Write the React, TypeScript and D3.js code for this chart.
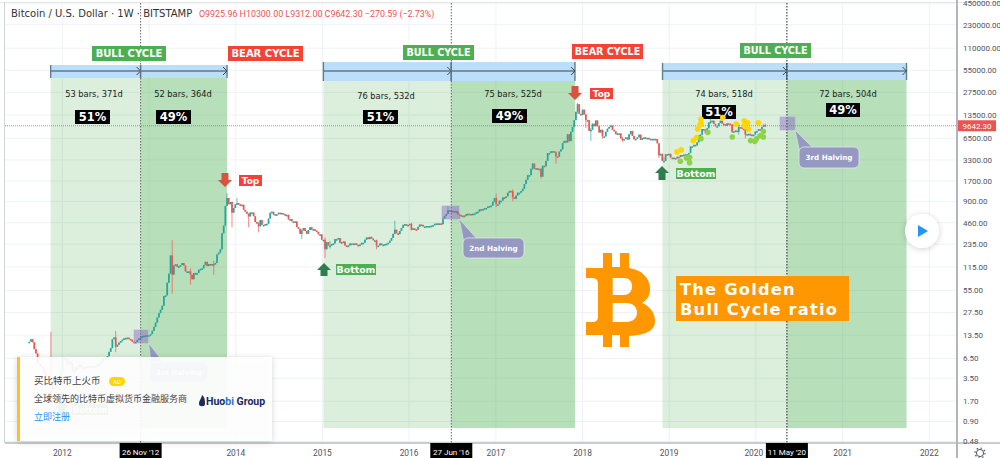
import * as d3 from "d3";

// weekly closes, one list per year, each with its own first Monday
const closes2011 = [11.0, 11.9, 10.8, 8.7, 7.6, 5.6, 5.4, 5.0, 4.8, 4.1, 3.4, 3.2, 3.1, 2.9, 2.5, 2.6, 3.0, 3.1, 3.2, 4.2];
const closes2012 = [6.8, 6.5, 6.4, 5.5, 5.9, 5.6, 4.4, 4.4, 4.9, 4.9, 5.3, 5.0, 4.9, 4.8, 5.0, 5.0, 5.1, 5.0, 5.1, 5.1, 5.2, 5.3, 5.4, 5.7, 6.3, 6.4, 6.6, 7.0, 8.0, 9.0, 11.9, 12.6, 9.4, 10.0, 10.7, 11.2, 11.7, 12.2, 12.4, 12.5, 12.0, 11.7, 11.0, 10.6, 10.9, 11.6, 12.2, 12.5, 13.1, 13.3, 13.4, 13.5];
const closes2013 = [13.5, 14.0, 15.5, 17.5, 20, 23.5, 27, 30, 34, 46, 47, 70, 93, 165, 90, 120, 125, 115, 117, 122, 130, 120, 100, 100, 100, 90, 78, 95, 90, 95, 105, 108, 110, 122, 135, 118, 126, 124, 126, 125, 130, 170, 180, 200, 330, 420, 780, 1000, 820, 880, 630, 730];
const closes2014 = [820, 850, 820, 800, 810, 690, 650, 610, 560, 635, 635, 565, 470, 450, 410, 500, 430, 430, 440, 445, 525, 630, 650, 590, 600, 600, 630, 625, 625, 600, 585, 590, 510, 515, 480, 475, 480, 400, 380, 325, 360, 390, 355, 325, 365, 400, 370, 375, 360, 345, 320, 320];
const closes2015 = [270, 270, 200, 250, 225, 225, 235, 240, 275, 275, 285, 245, 250, 255, 225, 222, 225, 240, 240, 235, 240, 230, 225, 232, 245, 245, 270, 290, 275, 295, 280, 265, 265, 225, 225, 240, 230, 232, 235, 238, 245, 262, 285, 325, 370, 330, 322, 355, 390, 430, 440, 425];
const closes2016 = [430, 445, 370, 385, 375, 370, 405, 435, 430, 410, 410, 415, 415, 415, 420, 425, 445, 450, 440, 450, 440, 525, 570, 605, 680, 655, 670, 645, 660, 655, 600, 585, 570, 575, 570, 605, 610, 605, 600, 610, 615, 640, 650, 700, 705, 700, 730, 730, 765, 775, 790, 890];
const closes2017 = [1000, 820, 820, 920, 920, 1020, 1000, 1050, 1180, 1250, 1240, 1020, 970, 1080, 1180, 1180, 1240, 1340, 1550, 1770, 2050, 2050, 2500, 2950, 2500, 2550, 2500, 2500, 1950, 2750, 2700, 3200, 4100, 4100, 4350, 4350, 4200, 3700, 3650, 4300, 4600, 5600, 6000, 5700, 7400, 5950, 8000, 9300, 11500, 15000, 19000, 14000];
const closes2018 = [13500, 16000, 13700, 11500, 11500, 8200, 8500, 10300, 9500, 11400, 9500, 7800, 8500, 6900, 6900, 8000, 8800, 9300, 9700, 8500, 8100, 7400, 7600, 7600, 6500, 6150, 6350, 6700, 6250, 7400, 8200, 7000, 6300, 6400, 6700, 7300, 6200, 6500, 6700, 6600, 6600, 6300, 6400, 6400, 6400, 6350, 5550, 3800, 4000, 3200, 3200, 3950];
const closes2019 = [3850, 4000, 3550, 3550, 3500, 3450, 3650, 3600, 3850, 3800, 3900, 3950, 3950, 4100, 5050, 5050, 5300, 5200, 5750, 7200, 7300, 8700, 8600, 7600, 8900, 10700, 11000, 11300, 10200, 9500, 9500, 10500, 11300, 10300, 10100, 9600, 10400, 10300, 10000, 8000, 8100, 8300, 7950, 9250, 9200, 8800, 8500, 7300, 7400, 7500, 7100, 7300, 7300];
const closes2020 = [8040, 8200, 8700, 8600, 9300, 9925.96, 9642.3];

const closeLists: [string, number[]][] = [
  ["2011-08-15", closes2011],
  ["2012-01-02", closes2012],
  ["2012-12-31", closes2013],
  ["2013-12-30", closes2014],
  ["2014-12-29", closes2015],
  ["2015-12-28", closes2016],
  ["2016-12-26", closes2017],
  ["2017-12-25", closes2018],
  ["2018-12-24", closes2019],
  ["2019-12-30", closes2020],
];

// the wicks that stick out of the bodies: week, high, low
const wicks: [string, number, number][] = [
  ["2011-11-14", 15, 2.3], ["2012-08-13", 15.4, 7.9], ["2013-04-08", 266, 50], ["2013-06-24", 110, 66],
  ["2013-09-30", 140, 90], ["2013-11-25", 1163, 780], ["2013-12-16", 900, 400], ["2014-01-06", 1000, 800],
  ["2014-02-24", 620, 400], ["2014-04-07", 470, 340], ["2014-10-06", 380, 275], ["2015-01-12", 290, 152],
  ["2015-02-02", 260, 205], ["2015-08-17", 270, 200], ["2015-11-02", 490, 320], ["2016-01-11", 460, 360],
  ["2016-06-13", 780, 610], ["2016-08-01", 620, 470], ["2017-01-02", 1150, 750], ["2017-03-13", 1320, 900],
  ["2017-06-05", 3000, 2400], ["2017-07-10", 2550, 1850], ["2017-09-11", 4350, 2950], ["2017-12-11", 19666, 14000],
  ["2018-01-15", 14000, 9000], ["2018-02-05", 9000, 6000], ["2018-03-26", 8500, 6500], ["2018-06-18", 6800, 5800],
  ["2018-11-19", 5600, 3500], ["2018-12-10", 3600, 3122], ["2019-06-24", 13800, 10300], ["2019-09-23", 10100, 7700],
  ["2019-10-21", 10350, 7300], ["2019-11-18", 8800, 6500], ["2020-02-10", 10300, 9312],
];

const priceTicks = [450000, 230000, 110000, 55000, 27500, 13500, 6500, 3300, 1700, 900, 460, 235, 115, 55, 27.5, 13.5, 6.5, 3.5, 1.7, 0.9, 0.48];
const yearTicks = [2012, 2013, 2014, 2015, 2016, 2017, 2018, 2019, 2020, 2021, 2022];
const yearLabels = [2012, 2014, 2015, 2016, 2017, 2018, 2019, 2020, 2021, 2022];

const lastPrice = 9642.3;
const halvings = ["2012-11-26", "2016-06-27", "2020-05-11"];
const halvingLabels = ["26 Nov '12", "27 Jun '16", "11 May '20"];
const cycleStarts = ["2011-11-13", "2015-01-05", "2018-12-04"];
const cycleEnds = ["2013-11-25", "2017-11-30", "2021-09-27"];

const yellowDots: [string, number][] = [
  ["2019-02-03", 4245], ["2019-02-21", 4520], ["2019-04-13", 6050], ["2019-04-27", 6650], ["2019-05-01", 8690],
  ["2019-05-10", 9770], ["2019-05-15", 10400], ["2019-05-15", 11790], ["2019-08-15", 12500], ["2019-10-10", 10170],
  ["2019-11-13", 11290], ["2019-11-28", 10600], ["2019-11-13", 9640], ["2019-12-01", 8690], ["2020-01-11", 10600],
];
const greenDots: [string, number][] = [
  ["2019-02-17", 3170], ["2019-03-15", 3515], ["2019-03-28", 3590], ["2019-03-28", 3030], ["2019-05-15", 6450],
  ["2019-06-13", 7840], ["2019-09-24", 6780], ["2019-12-10", 6050], ["2019-12-28", 5910], ["2020-01-04", 6400],
  ["2020-01-19", 7050], ["2020-02-02", 8030], ["2020-02-02", 6780],
];

const W = 1000;
const H = 458;
const axisX = 957;
const axisY = 443;
const sans = "'DejaVu Sans', sans-serif";
const thin = "Roboto, sans-serif";
const cjk = "'Noto Sans CJK SC', sans-serif";

const day = (s: string) => new Date(s + "T00:00:00Z");
const x = d3.scaleUtc().domain([day("2012-01-01"), day("2022-01-01")]).range([62.3, 929.3]);
const y = d3.scaleLog().domain([0.48, 450000]).range([441.5, 3.3]);

const wickByWeek = new Map(wicks.map((w) => [w[0], w]));
const fmtWeek = d3.utcFormat("%Y-%m-%d");

const flat = closeLists.flatMap(([start, list]) =>
  list.map((close, i) => ({ date: d3.utcDay.offset(day(start), i * 7), close }))
);
const candles = flat.map((d, i) => {
  const open = i === 0 ? d.close : flat[i - 1].close;
  const w = wickByWeek.get(fmtWeek(d.date));
  return {
    date: d.date,
    open,
    close: d.close,
    high: w ? w[1] : Math.max(open, d.close),
    low: w ? w[2] : Math.min(open, d.close),
  };
});

function Tag({ x0, y0, w, h, fill, text, size = 10, dy = 0 }: any) {
  return (
    <g>
      <rect x={x0} y={y0} width={w} height={h} fill={fill} />
      <text x={x0 + w / 2} y={y0 + h / 2 + size * 0.36 + dy} textAnchor="middle" fill="#fff" fontFamily={sans} fontWeight="bold" fontSize={size}>
        {text}
      </text>
    </g>
  );
}

function FatArrow({ cx, top, h, fill, up }: any) {
  const pts = up
    ? [[0, 0], [7, 7], [3.5, 7], [3.5, h], [-3.5, h], [-3.5, 7], [-7, 7]]
    : [[-3.5, 0], [3.5, 0], [3.5, h - 7], [7, h - 7], [0, h], [-7, h - 7], [-3.5, h - 7]];
  return <polygon points={pts.map((p) => `${cx + p[0]},${top + p[1]}`).join(" ")} fill={fill} />;
}

function Halving({ date, x0, y0, x1, y1, bw, bh, cx, cy, cw, ch, text }: any) {
  const hx = x(day(date));
  return (
    <g>
      <rect x={x0} y={y0} width={bw} height={bh} fill="#7e57c2" fillOpacity={0.42} stroke="#b39ddb" strokeOpacity={0.5} />
      <polygon points={`${hx + x1},${y1} ${cx + 14},${cy + 1} ${cx + 2},${cy + 10}`} fill="#9598c0" stroke="#e5e5f2" strokeWidth={0.6} />
      <rect x={cx} y={cy} width={cw} height={ch} rx={5} fill="#9598c0" stroke="#e5e5f2" strokeWidth={0.8} />
      <text x={cx + cw / 2} y={cy + ch / 2 + 2.6} textAnchor="middle" fill="#fff" fontFamily={sans} fontWeight="bold" fontSize={7.2}>
        {text}
      </text>
    </g>
  );
}

function RangeBar({ x0, x1, top, bottom }: any) {
  const mid = 71;
  return (
    <g stroke="#37474f" strokeWidth={1} fill="none">
      <rect x={x0} y={top} width={x1 - x0} height={bottom - top} fill="#bbdefb" stroke="none" />
      <line x1={x0} x2={x1} y1={mid} y2={mid} />
      <line x1={x0} x2={x0} y1={top} y2={bottom} strokeWidth={1.4} stroke="#607d8b" />
      <line x1={x1} x2={x1} y1={top} y2={bottom} strokeWidth={1.4} stroke="#607d8b" />
      <path d={`M${x1 - 4},${mid - 4}L${x1},${mid}L${x1 - 4},${mid + 4}`} />
    </g>
  );
}

export default function App() {
  const xs = halvings.map((d) => x(day(d)));
  const starts = cycleStarts.map((d) => x(day(d)));
  const ends = cycleEnds.map((d) => x(day(d)));
  const tops = [[65, 78], [62, 81], [63, 80]];
  const regionBottom = 428;
  const candleW = 1.7;

  return (
    <svg width={W} height={H} style={{ position: "fixed", left: 0, top: 0, background: "#fff" }}>
      <defs>
        <filter id="shadow" x="-20%" y="-20%" width="140%" height="140%">
          <feDropShadow dx="0" dy="1" stdDeviation="3" floodColor="#000" floodOpacity="0.18" />
        </filter>
      </defs>

      {/* grid */}
      <g stroke="#eef2f7" strokeWidth={1}>
        {priceTicks.map((t) => (
          <line key={t} x1={5} x2={axisX} y1={y(t)} y2={y(t)} />
        ))}
        {yearTicks.map((t) => {
          const px = x(day(`${t}-01-01`));
          return <line key={t} x1={px} x2={px} y1={3} y2={axisY} />;
        })}
      </g>

      {/* cycle regions */}
      {starts.map((s, i) => (
        <g key={s}>
          <rect x={s} y={tops[i][1]} width={xs[i] - s} height={regionBottom - tops[i][1]} fill="#4caf50" fillOpacity={0.2} />
          <rect x={xs[i]} y={tops[i][1]} width={ends[i] - xs[i]} height={regionBottom - tops[i][1]} fill="#4caf50" fillOpacity={0.4} />
          <RangeBar x0={s} x1={xs[i]} top={tops[i][0]} bottom={tops[i][1]} />
          <RangeBar x0={xs[i]} x1={ends[i]} top={tops[i][0]} bottom={tops[i][1]} />
        </g>
      ))}

      {/* candles */}
      {candles.map((c) => {
        const px = x(c.date);
        const col = c.close >= c.open ? "#26a69a" : "#ef5350";
        const a = y(Math.max(c.open, c.close));
        const b = y(Math.min(c.open, c.close));
        return (
          <g key={+c.date} fill={col} stroke={col}>
            <line x1={px} x2={px} y1={y(c.high)} y2={y(c.low)} strokeWidth={0.8} strokeOpacity={0.85} />
            <rect x={px - candleW / 2} y={a} width={candleW} height={Math.max(b - a, 1.6)} stroke="none" />
          </g>
        );
      })}

      {/* last price line */}
      <line x1={5} x2={axisX} y1={y(lastPrice)} y2={y(lastPrice)} stroke="#ef5350" strokeDasharray="1 1" strokeWidth={0.8} />

      {/* halving crosshairs */}
      {xs.map((px, i) => (
        <line key={px} x1={px} x2={px} y1={3} y2={axisY} stroke={i === 2 ? "#222" : "#666"} strokeWidth={1} strokeDasharray="1.5 1.5" />
      ))}

      {/* annotations */}
      <Tag x0={92} y0={46} w={74} h={15} fill="#4caf50" text="BULL CYCLE" />
      <Tag x0={228} y0={46} w={75} h={15} fill="#f44336" text="BEAR CYCLE" />
      <Tag x0={403} y0={45} w={71} h={15} fill="#4caf50" text="BULL CYCLE" size={9.6} />
      <Tag x0={572} y0={44} w={71} h={15} fill="#f44336" text="BEAR CYCLE" size={9.6} />
      <Tag x0={740} y0={43} w={71} h={15} fill="#4caf50" text="BULL CYCLE" size={9.6} />

      <g fontFamily={sans} fontSize={8.3} fill="#222" textAnchor="middle">
        <text x={94} y={97}>53 bars, 371d</text>
        <text x={183} y={97}>52 bars, 364d</text>
        <text x={386} y={99}>76 bars, 532d</text>
        <text x={513} y={97}>75 bars, 525d</text>
        <text x={724} y={97}>74 bars, 518d</text>
        <text x={848} y={97}>72 bars, 504d</text>
      </g>

      <Tag x0={75} y0={110} w={35} h={14} fill="#000" text="51%" size={11.5} />
      <Tag x0={156} y0={110} w={35} h={14} fill="#000" text="49%" size={11.5} />
      <Tag x0={363} y0={110} w={35} h={14} fill="#000" text="51%" size={11.5} />
      <Tag x0={492} y0={109} w={35} h={14} fill="#000" text="49%" size={11.5} />
      <Tag x0={702} y0={105} w={34} h={14} fill="#000" text="51%" size={11.5} />
      <Tag x0={826} y0={103} w={34} h={14} fill="#000" text="49%" size={11.5} />

      <FatArrow cx={225} top={173} h={14} fill="#d9533f" />
      <Tag x0={239} y0={175} w={23} h={11} fill="#f44336" text="Top" size={9} />
      <FatArrow cx={575} top={86} h={14} fill="#d9533f" />
      <Tag x0={590} y0={88} w={23} h={11} fill="#f44336" text="Top" size={9} />
      <FatArrow cx={324} top={263} h={13} fill="#2e7d4f" up />
      <Tag x0={336} y0={264} w={40} h={11} fill="#4caf50" text="Bottom" size={9.4} />
      <FatArrow cx={662} top={166} h={14} fill="#2e7d4f" up />
      <Tag x0={676} y0={168} w={40} h={11} fill="#4caf50" text="Bottom" size={9.4} />
      {/* the first Bottom sits behind the ad card, nudged clear of the card's link */}
      <FatArrow cx={62} top={401} h={13} fill="#2e7d4f" up />
      <Tag x0={72} y0={404} w={36} h={11} fill="#4caf50" text="Bottom" size={8.4} />

      <Halving date={halvings[0]} x0={134} y0={330} bw={14} bh={13} x1={8} y1={343} cx={150} cy={362} cw={58} ch={20} text="1st Halving" />
      <Halving date={halvings[1]} x0={442} y0={206} bw={17} bh={13} x1={8} y1={219} cx={463} cy={238} cw={61} ch={20} text="2nd Halving" />
      <Halving date={halvings[2]} x0={780} y0={117} bw={15} bh={13} x1={8} y1={130} cx={799} cy={147} cw={60} ch={21} text="3rd Halving" />

      {/* halving-to-halving dots */}
      {yellowDots.map(([d, p], i) => (
        <circle key={i} cx={x(day(d))} cy={y(p)} r={2.8} fill="#ffd600" />
      ))}
      {greenDots.map(([d, p], i) => (
        <circle key={i} cx={x(day(d))} cy={y(p)} r={2.8} fill="#8bd34a" />
      ))}

      {/* bitcoin mark */}
      <path
        fill="#ff9800"
        fillRule="evenodd"
        d="M586,268 L603,268 L603,253 L612,253 L612,267 L620,267 L620,253 L629,253 L629,268 C642,270 650,278 650,289 C650,296 647,300 642,303 C650,306 655,313 655,321 C655,331 645,335 629,336 L629,347 L620,347 L620,335 L612,335 L612,347 L603,347 L603,335 L586,335 L586,322 L592,322 C596,322 598,320 598,317 L598,284 C598,280 596,278 592,278 L586,278 Z M612.7,278 L612.7,295 L624,295 C629,295 632,291 632,286.5 C632,281 629,278 624,278 Z M612.7,303 L612.7,322 L626,322 C633,322 637,318 637,312.5 C637,307 633,303 626,303 Z"
      />
      <rect x={676} y={276} width={173} height={45} fill="#ff9800" />
      <g fill="#fff" fontFamily={sans} fontWeight="bold" fontSize={16.3} letterSpacing={1.2}>
        <text x={680} y={295}>The Golden</text>
        <text x={680} y={314.5}>Bull Cycle ratio</text>
      </g>

      {/* frame and axes */}
      <line x1={0} x2={W} y1={2.5} y2={2.5} stroke="#e4e6ea" />
      <line x1={4.5} x2={4.5} y1={2} y2={axisY} stroke="#d1d4dc" />
      <line x1={5} x2={W} y1={axisY} y2={axisY} stroke="#9598a1" />
      <line x1={axisX} x2={axisX} y1={0} y2={H} stroke="#b2b5be" strokeWidth={2} />
      <g fontFamily={thin} fontSize={8} fill="#50535e">
        {priceTicks.map((t) => (
          <text key={t} x={963} y={y(t) + 2.9}>{t.toFixed(2)}</text>
        ))}
      </g>
      <g fontFamily={thin} fontSize={8.4} fill="#50535e" textAnchor="middle">
        {yearLabels.map((t) => (
          <text key={t} x={x(day(`${t}-01-01`)) - (t === 2020 ? 2 : 0)} y={456}>{t}</text>
        ))}
      </g>
      {xs.map((px, i) => (
        <g key={px}>
          <rect x={px - 21} y={axisY} width={42} height={15} fill="#000" />
          <text x={px} y={455} textAnchor="middle" fill="#fff" fontFamily={thin} fontSize={8}>{halvingLabels[i]}</text>
        </g>
      ))}
      <rect x={958} y={y(lastPrice) - 5.5} width={38} height={11} fill="#ef5350" />
      <text x={977} y={y(lastPrice) + 2.9} textAnchor="middle" fill="#fff" fontFamily={thin} fontSize={8}>9642.30</text>
      <circle cx={980} cy={453} r={3.6} fill="none" stroke="#50535e" strokeWidth={1} />
      <circle cx={980} cy={453} r={5} fill="none" stroke="#50535e" strokeWidth={1.2} strokeDasharray="1.5 2.4" />

      {/* header */}
      <text x={11} y={17} fontFamily={sans} fontSize={10} fill="#333">Bitcoin / U.S. Dollar · 1W · BITSTAMP</text>
      <text x={199} y={17} fontFamily={thin} fontSize={8.9} fill="#ef5350">O9925.96 H10300.00 L9312.00 C9642.30 −270.59 (−2.73%)</text>

      {/* play button */}
      <circle cx={922} cy={231} r={17} fill="#fff" filter="url(#shadow)" />
      <polygon points="918,225 918,237 928,231" fill="#2196f3" />

      {/* ad card */}
      <rect x={17} y={357} width={255} height={84} fill="#fff" fillOpacity={0.91} filter="url(#shadow)" />
      <rect x={17} y={357} width={3} height={84} fill="#fbc02d" />
      <text x={34} y={384} fontFamily={cjk} fontSize={9.5} fill="#444">买比特币上火币</text>
      <rect x={109} y={377} width={16} height={9} rx={4.5} fill="#ffd600" />
      <text x={117} y={384} textAnchor="middle" fontFamily={thin} fontSize={6} fill="#fff">AD</text>
      <text x={34} y={402} fontFamily={cjk} fontSize={9} fill="#444">全球领先的比特币虚拟货币金融服务商</text>
      <text x={34} y={420} fontFamily={cjk} fontSize={9} fill="#2196f3">立即注册</text>
      <path d="M199,404 C199,400 202,398 202,395 C205,398 205,400 205,404 C205,407 199,407 199,404 Z" fill="#1b2a5b" />
      <text x={206} y={405} fontFamily={thin} fontWeight="bold" fontSize={10.5} fill="#1b2a5b">
        Huo<tspan fill="#2a6fd6">bi</tspan> Group
      </text>
    </svg>
  );
}
